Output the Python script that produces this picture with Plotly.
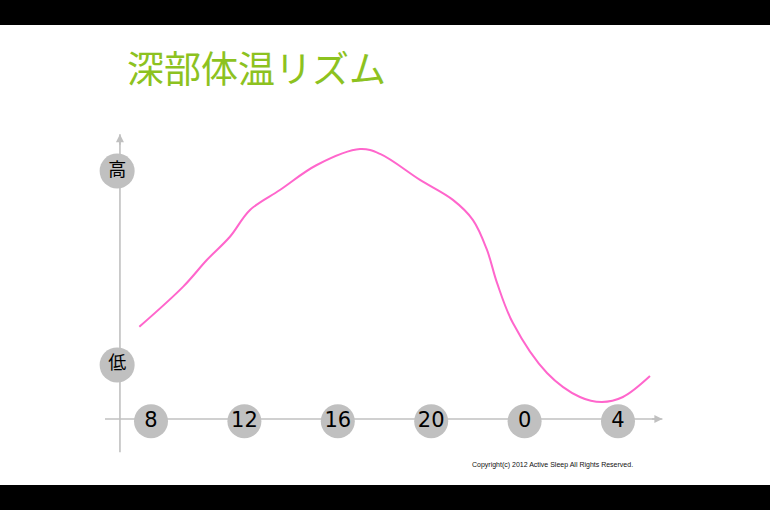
import plotly.graph_objects as go

# time of day (hours, 24 = midnight) and relative core body temperature (0 = 低, 1 = 高)
hours = [7.50, 9.38, 10.39, 11.38, 12.24, 13.52, 15.10, 16.95, 17.81, 19.52,
         20.93, 21.79, 22.39, 22.82, 23.50, 24.96, 26.37, 27.31, 28.21, 29.37]
temp = [0.197, 0.404, 0.541, 0.661, 0.799, 0.902, 1.031, 1.113, 1.088, 0.954,
        0.851, 0.747, 0.593, 0.423, 0.216, -0.041, -0.165, -0.191, -0.165, -0.057]

tick_hours = [8, 12, 16, 20, 24, 28]
tick_labels = ["8", "12", "16", "20", "0", "4"]
level_values = [1, 0]
level_labels = ["高", "低"]

title = "深部体温リズム"
copyright_text = "Copyright(c) 2012 Active Sleep All Rights Reserved."

FONT = "Noto Sans CJK JP"
GRAY = "#c0c0c0"
x_axis_at = 6.67
y_axis_at = -0.278
x_ends = [6.03, 29.9]
y_ends = [-0.45, 1.19]

fig = go.Figure()

# axis lines (drawn first so the circles sit on top)
fig.add_trace(go.Scatter(x=[x_axis_at, x_axis_at], y=y_ends, mode="lines",
                         line=dict(color=GRAY, width=1.6), hoverinfo="skip"))
fig.add_trace(go.Scatter(x=x_ends, y=[y_axis_at, y_axis_at], mode="lines",
                         line=dict(color=GRAY, width=1.6), hoverinfo="skip"))
# arrowheads
fig.add_annotation(x=x_axis_at, y=y_ends[1], ax=0, ay=12, text="", showarrow=True,
                   arrowhead=2, arrowsize=1, arrowwidth=1.6, arrowcolor=GRAY)
fig.add_annotation(x=x_ends[1], y=y_axis_at, ax=-12, ay=0, text="", showarrow=True,
                   arrowhead=2, arrowsize=1, arrowwidth=1.6, arrowcolor=GRAY)

fig.add_trace(go.Scatter(x=hours, y=temp, mode="lines", line_shape="spline",
                         line=dict(color="#ff66cc", width=2), hoverinfo="skip"))

fig.add_trace(go.Scatter(x=tick_hours, y=[y_axis_at - 0.012] * len(tick_hours),
                         mode="markers+text", text=tick_labels, textposition="middle center",
                         textfont=dict(family="DejaVu Sans", size=21, color="black"),
                         marker=dict(size=34, color=GRAY), hoverinfo="skip"))
fig.add_trace(go.Scatter(x=[x_axis_at - 0.12] * 2, y=level_values, mode="markers+text",
                         text=level_labels, textposition="middle center",
                         textfont=dict(family=FONT, size=18, color="black"),
                         marker=dict(size=35, color=GRAY), hoverinfo="skip"))

# title and copyright, positioned in pixels of the 770x510 page
fig.add_annotation(x=125 / 770, y=1 - (67 - 25) / 460, xref="paper", yref="paper",
                   text=title, showarrow=False, xanchor="left", yanchor="middle",
                   font=dict(family=FONT, size=37, color="#8dc21f"))
fig.add_annotation(x=552 / 770, y=1 - (465 - 25) / 460, xref="paper", yref="paper",
                   text=copyright_text, showarrow=False, xanchor="center", yanchor="middle",
                   font=dict(family="Liberation Sans", size=7, color="#111111"))

fig.update_layout(
    width=770, height=510,
    margin=dict(l=0, r=0, t=25, b=25),
    paper_bgcolor="black", plot_bgcolor="white",
    showlegend=False,
    xaxis=dict(range=[1.533, 34.51], visible=False, fixedrange=True),
    yaxis=dict(range=[-0.6186, 1.7526], visible=False, fixedrange=True),
)

fig.write_html("out.html", config={"displayModeBar": False},
               post_script="document.body.style.margin='0';")
